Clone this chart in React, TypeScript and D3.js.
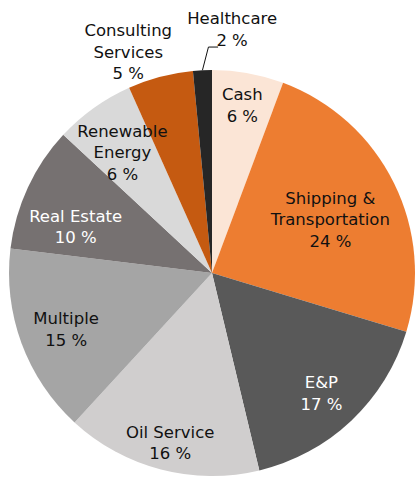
import React from "react";
import * as d3 from "d3";

// sector data, clockwise from 12 o'clock
const categories = [
  "Cash",
  "Shipping & Transportation",
  "E&P",
  "Oil Service",
  "Multiple",
  "Real Estate",
  "Renewable Energy",
  "Consulting Services",
  "Healthcare",
];
const values = [5.7, 24.0, 16.6, 15.6, 15.1, 10.0, 6.4, 5.2, 1.5];
const labelLines = [
  ["Cash"],
  ["Shipping &", "Transportation"],
  ["E&P"],
  ["Oil Service"],
  ["Multiple"],
  ["Real Estate"],
  ["Renewable", "Energy"],
  ["Consulting", "Services"],
  ["Healthcare"],
];
const colors = [
  "#FBE5D6", "#ED7D31", "#595959", "#D0CECE", "#A5A5A5",
  "#767171", "#D9D9D9", "#C55A11", "#262626",
];
const textColors = ["#111", "#111", "#fff", "#111", "#111", "#fff", "#111", "#111", "#111"];

// label placement: radius factor + angle shift (deg)
const labelLayout = [
  [0.84, 0], [0.64, 2], [0.8, 1], [0.86, -0.7], [0.77, -0.8],
  [0.71, -6], [0.74, -1], [1.165, -6], [1.207, 7.4],
];

const W = 416;
const H = 479;
const cx = 212;
const cy = 273;
const R = 203;
const lineH = 21.5;
const toRad = Math.PI / 180;

export default function App() {
  const pie = d3.pie<number>().value((d) => d).sort(null);
  const arcs = pie(values);
  const arc = d3.arc<d3.PieArcDatum<number>>().innerRadius(0).outerRadius(R);

  return (
    <svg
      width={W}
      height={H}
      style={{ position: "absolute", left: 0, top: 0, background: "#fff" }}
      fontFamily="'DejaVu Sans', sans-serif"
      fontSize={16.5}
    >
      <g transform={`translate(${cx},${cy})`}>
        {arcs.map((a, i) => (
          <path key={categories[i]} d={arc(a) || ""} fill={colors[i]} />
        ))}
        {arcs.map((a, i) => {
          const mid = (a.startAngle + a.endAngle) / 2 + labelLayout[i][1] * toRad;
          const r = R * labelLayout[i][0];
          const x = Math.sin(mid) * r;
          const y = -Math.cos(mid) * r;
          const lines = [...labelLines[i], `${Math.round(values[i])} %`];
          const top = y - ((lines.length - 1) * lineH) / 2;
          let leader = null;
          if (i === arcs.length - 1) {
            // leader line for the thin outside slice
            const m0 = (a.startAngle + a.endAngle) / 2;
            const p0 = [Math.sin(m0) * R, -Math.cos(m0) * R];
            const ey = top + lineH + 7.5;
            leader = (
              <polyline
                points={`${p0[0]},${p0[1]} ${p0[0] + 6},${ey} ${x - 14},${ey}`}
                fill="none"
                stroke="#111"
                strokeWidth={1}
              />
            );
          }
          return (
            <g key={"l" + i}>
              {leader}
              <text textAnchor="middle" fill={textColors[i]}>
                {lines.map((t, j) => (
                  <tspan key={j} x={x} y={top + j * lineH + 6}>
                    {t}
                  </tspan>
                ))}
              </text>
            </g>
          );
        })}
      </g>
    </svg>
  );
}
